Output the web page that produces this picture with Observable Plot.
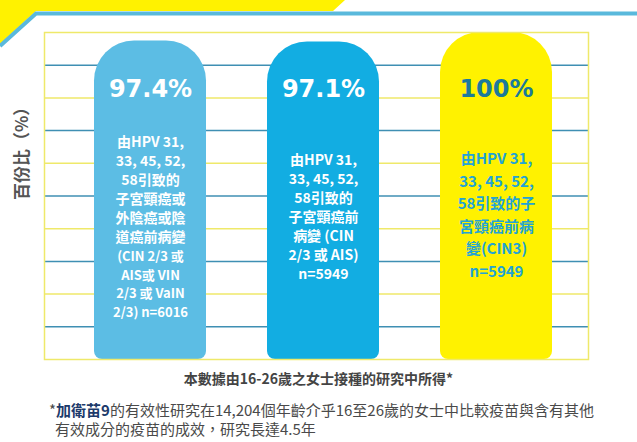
<!DOCTYPE html>
<html>
<head>
<meta charset="utf-8">
<script src="https://cdn.jsdelivr.net/npm/d3@7"></script>
<script src="https://cdn.jsdelivr.net/npm/@observablehq/plot@0.6"></script>
<style>
  html, body { margin: 0; padding: 0; background: #ffffff; }
  #wrap { position: relative; width: 637px; height: 442px; overflow: hidden; font-family: "Noto Sans CJK TC", "Noto Sans", sans-serif; }
  #deco { position: absolute; left: 0; top: 0; }
  #chart { position: absolute; left: 0; top: 0; }
  #caption { position: absolute; left: 0; top: 369px; width: 637px; text-align: center; font-size: 14px; font-weight: 700; color: #444; line-height: 18px; }
  #foot { position: absolute; left: 49px; top: 400px; width: 580px; font-size: 15px; color: #4a4a4a; line-height: 19px; }
  #foot b { color: #1c3a6b; }
  #foot .l2 { padding-left: 6px; }
</style>
</head>
<body>
<div id="wrap">
  <svg id="deco" width="637" height="60">
    <polygon points="0,0 345,0 333,11 36,11 0,44" fill="#fff200"></polygon>
    <polyline points="0,46 36,13.5 637,13.5" fill="none" stroke="#5ab9dc" stroke-width="4"></polyline>
  </svg>
  <div id="chart"></div>
  <div id="caption"></div>
  <div id="foot"></div>
</div>
<script>
// ---- data ----
const categories = ["子宮頸/外陰/陰道癌前病變", "子宮頸癌前病變 (CIN 2/3 或 AIS)", "子宮頸癌前病變 (CIN3)"];
const values = [97.4, 97.1, 100];
const valueLabels = ["97.4%", "97.1%", "100%"];
const bar1LinesCJK = ["由HPV 31,", "33, 45, 52,", "58引致的", "子宮頸癌或", "外陰癌或陰", "道癌前病變"];
const bar1LinesLatin = ["(CIN 2/3 或", "AIS或 VIN", "2/3 或 VaIN", "2/3) n=6016"];
const bar2Lines = ["由HPV 31,", "33, 45, 52,", "58引致的", "子宮頸癌前", "病變 (CIN", "2/3 或 AIS)", "n=5949"];
const bar3Lines = ["由HPV 31,", "33, 45, 52,", "58引致的子", "宮頸癌前病", "變(CIN3)", "n=5949"];
const gridTicks = [10, 20, 30, 40, 50, 60, 70, 80, 90];
const yLabel = "百份比（%）";
const captionText = "本數據由16-26歲之女士接種的研究中所得*";
const footBrand = "加衛苗9";
const footLine1 = "的有效性研究在14,204個年齡介乎16至26歲的女士中比較疫苗與含有其他";
const footLine2 = "有效成分的疫苗的成效，研究長達4.5年";

// ---- styles ----
const barColors = ["#5cbde4", "#12ade2", "#fff200"];
const pctColors = ["#ffffff", "#ffffff", "#1c7a9a"];
const descColors = ["#ffffff", "#ffffff", "#22a3d6"];
const gridBlue = "#3f8fb3";
const gridYellow = "#efe96a";

const rows = categories.map((c, i) => ({cat: c, value: values[i], label: valueLabels[i], fill: barColors[i], pct: pctColors[i]}));

const cjk = "Noto Sans CJK TC";

const chart = Plot.plot({
  width: 637,
  height: 365,
  marginTop: 32,
  marginBottom: 6,
  marginLeft: 44,
  marginRight: 49,
  style: {background: "transparent", overflow: "visible"},
  x: {domain: categories, paddingInner: 0.35, paddingOuter: 0.243, align: 0.59, axis: null},
  y: {domain: [0, 100], axis: null},
  color: {type: "identity"},
  marks: [
    Plot.ruleY(gridTicks, {stroke: d => (d % 20 ? gridBlue : gridYellow), strokeWidth: 1.5}),
    Plot.barY(rows, {x: "cat", y: "value", fill: "fill", ry1: 40, ry2: 8}),
    Plot.frame({stroke: gridYellow, strokeWidth: 1.5}),
    Plot.text(rows, {x: "cat", text: "label", fill: "pct", frameAnchor: "top", dy: 57, lineAnchor: "middle",
      fontFamily: "DejaVu Sans", fontWeight: 900, fontSize: 24}),
    Plot.text([bar1LinesCJK.join("\n")], {x: () => categories[0], frameAnchor: "top", dy: 101, lineAnchor: "top",
      lineHeight: 1.36, fill: descColors[0], fontFamily: cjk, fontWeight: 700, fontSize: 14}),
    Plot.text([bar1LinesLatin.join("\n")], {x: () => categories[0], frameAnchor: "top", dy: 215, lineAnchor: "top",
      lineHeight: 1.44, fill: descColors[0], fontFamily: cjk, fontWeight: 700, fontSize: 13}),
    Plot.text([bar2Lines.join("\n")], {x: () => categories[1], frameAnchor: "top", dy: 119, lineAnchor: "top",
      lineHeight: 1.36, fill: descColors[1], fontFamily: cjk, fontWeight: 700, fontSize: 14}),
    Plot.text([bar3Lines.join("\n")], {x: () => categories[2], frameAnchor: "top", dy: 116, lineAnchor: "top",
      lineHeight: 1.5, fill: descColors[2], fontFamily: cjk, fontWeight: 700, fontSize: 15}),
    Plot.text([yLabel], {frameAnchor: "left", rotate: -90, dx: -22, dy: 4, fill: "#555", fontFamily: cjk,
      fontWeight: 700, fontSize: 17})
  ]
});
document.getElementById("chart").append(chart);

document.getElementById("caption").textContent = captionText;
const foot = document.getElementById("foot");
foot.innerHTML = "";
const d1 = document.createElement("div");
d1.append("*");
const b = document.createElement("b");
b.textContent = footBrand;
d1.append(b, footLine1);
const d2 = document.createElement("div");
d2.className = "l2";
d2.textContent = footLine2;
foot.append(d1, d2);
</script>
</body>
</html>
